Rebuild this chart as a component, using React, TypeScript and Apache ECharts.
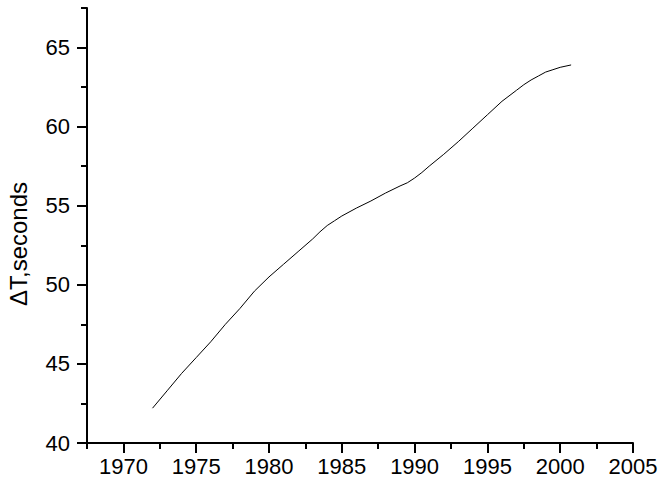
import * as echarts from "echarts";
import { useEffect, useRef } from "react";

// ΔT readings from the plot (yearly, half-years near the bends)
const years = [
	1972, 1973, 1974, 1975, 1976, 1977, 1978, 1979, 1980, 1981, 1982, 1983,
	1983.5, 1984, 1984.5, 1985, 1986, 1987, 1988, 1989, 1989.5, 1990, 1990.5,
	1991, 1992, 1993, 1994, 1995, 1996, 1997, 1997.5, 1998, 1998.5, 1999,
	1999.5, 2000, 2000.75,
];
const deltaT = [
	42.2, 43.3, 44.4, 45.4, 46.4, 47.5, 48.5, 49.6, 50.5, 51.3, 52.1, 52.9,
	53.35, 53.75, 54.05, 54.35, 54.85, 55.3, 55.8, 56.25, 56.45, 56.75, 57.1,
	57.5, 58.25, 59.05, 59.9, 60.75, 61.6, 62.3, 62.65, 62.95, 63.2, 63.45,
	63.6, 63.75, 63.9,
];

const xMajorTicks = [1970, 1975, 1980, 1985, 1990, 1995, 2000, 2005];
const xMinorTicks = [1967.5, 1972.5, 1977.5, 1982.5, 1987.5, 1992.5, 1997.5, 2002.5];
const yMajorTicks = [40, 45, 50, 55, 60, 65];
const yMinorTicks = [42.5, 47.5, 52.5, 57.5, 62.5, 67.5];

const font = "'Liberation Sans', Arial, sans-serif";
const black = "#000";

export default function App() {
	const chartRef = useRef<HTMLDivElement>(null);

	useEffect(() => {
		if (!chartRef.current) return;
		document.body.style.margin = "0";
		const chart = echarts.init(chartRef.current, null, { renderer: "svg" });

		const lineStyle = { color: black, width: 2 };

		chart.setOption({
			animation: false,
			backgroundColor: "#fff",
			textStyle: { fontFamily: font },
			grid: { left: 87, right: 36, top: 8, bottom: 42 },
			xAxis: [
				{
					type: "value",
					min: 1967.5,
					max: 2005,
					position: "bottom",
					axisLine: { show: true, onZero: false, lineStyle },
					axisTick: {
						show: true,
						customValues: xMajorTicks,
						length: 10,
						lineStyle,
					},
					axisLabel: {
						customValues: xMajorTicks,
						formatter: (v: number) => String(v),
						margin: 12,
						fontSize: 22,
						color: black,
						fontFamily: font,
					},
					splitLine: { show: false },
				},
				{
					// minor ticks only
					type: "value",
					min: 1967.5,
					max: 2005,
					position: "bottom",
					axisLine: { show: false, onZero: false },
					axisTick: {
						show: true,
						customValues: xMinorTicks,
						length: 6,
						lineStyle,
					},
					axisLabel: { show: false },
					splitLine: { show: false },
				},
			],
			yAxis: [
				{
					type: "value",
					min: 40,
					max: 67.5,
					position: "left",
					axisLine: { show: true, onZero: false, lineStyle },
					axisTick: {
						show: true,
						customValues: yMajorTicks,
						length: 10,
						lineStyle,
					},
					axisLabel: {
						customValues: yMajorTicks,
						formatter: (v: number) => String(v),
						margin: 17,
						fontSize: 22,
						color: black,
						fontFamily: font,
					},
					splitLine: { show: false },
				},
				{
					type: "value",
					min: 40,
					max: 67.5,
					position: "left",
					axisLine: { show: false, onZero: false },
					axisTick: {
						show: true,
						customValues: yMinorTicks,
						length: 6,
						lineStyle,
					},
					axisLabel: { show: false },
					splitLine: { show: false },
				},
			],
			graphic: [
				{
					type: "text",
					x: 18,
					y: 244,
					rotation: Math.PI / 2,
					style: {
						text: "ΔT,seconds",
						fontSize: 24,
						fontFamily: font,
						fill: black,
						textAlign: "center",
						textVerticalAlign: "middle",
					},
				},
			],
			series: [
				{
					type: "line",
					xAxisIndex: 0,
					yAxisIndex: 0,
					data: years.map((y, i) => [y, deltaT[i]]),
					showSymbol: false,
					lineStyle: { color: black, width: 1 },
				},
			],
		});

		return () => {
			chart.dispose();
		};
	}, []);

	return <div ref={chartRef} style={{ width: 669, height: 485 }} />;
}
